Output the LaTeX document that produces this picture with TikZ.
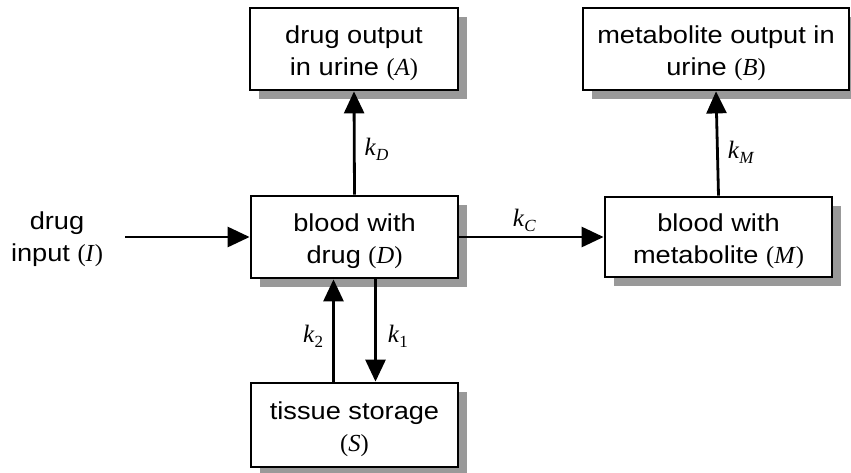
\documentclass[tikz,border=0pt]{standalone}
\usepackage{fontspec}
\setmainfont{Liberation Sans}[FakeStretch=1.11]
\newfontfamily\tms{Liberation Serif}
\usetikzlibrary{shadows,arrows.meta}
\newcommand{\iv}[1]{{\tms(\textit{#1})}}
\newcommand{\fl}{\rule{0pt}{26pt}}
\newcommand{\kl}[1]{{\tms\fontsize{25}{25}\selectfont\textit{k}\raisebox{-5pt}{\fontsize{17}{17}\selectfont #1}}}
\begin{document}
\begin{tikzpicture}[x=1pt,y=-1pt,
  box/.style={draw, line width=2.8pt, fill=white, align=center, inner sep=0pt,
    font=\fontsize{24.5}{32.5}\selectfont,
    drop shadow={shadow xshift=9pt, shadow yshift=-9pt, fill=black!40, opacity=1, draw=none}},
  arr/.style={line width=2.8pt, -{Triangle[length=22pt,width=20pt]}},
  lbl/.style={inner sep=0pt}]
\useasboundingbox (0,0) rectangle (851,472);
\node[box, minimum width=208pt, minimum height=82pt] (A) at (354,49) {\fl drug output\\in urine \iv{A}};
\node[box, minimum width=266pt, minimum height=82pt] (B) at (716,49) {\fl metabolite output in\\urine \iv{B}};
\node[box, minimum width=207pt, minimum height=82pt] (D) at (354.5,237) {\fl blood with\\drug \iv{D}};
\node[box, minimum width=227pt, minimum height=80pt] (M) at (718.5,237) {\fl blood with\\metabolite \iv{M}};
\node[box, minimum width=207pt, minimum height=84pt] (S) at (354.5,425) {\fl tissue storage\\\iv{S}};
\node[align=center, font=\fontsize{24.5}{32.5}\selectfont, inner sep=0pt] (I) at (57,239) {drug\\input \iv{I}};
\coordinate (Iend) at (125,237);
\draw[arr] (Iend) -- (D.west);
\draw[arr] (D.north) -- (A.south) node[lbl, pos=0.44, right=9pt] {\kl{\textit{D}}};
\draw[arr] (M.north) -- (B.south) node[lbl, pos=0.42, right=9pt] {\kl{\textit{M}}};
\draw[arr] (D.east) -- (M.west) node[lbl, pos=0.45, above=4pt] {\kl{\textit{C}}};
\draw[arr] ([xshift=21pt]D.south) -- ([xshift=21pt]S.north) node[lbl, pos=0.56, right=11pt] {\kl{1}};
\draw[arr] ([xshift=-21pt]S.north) -- ([xshift=-21pt]D.south) node[lbl, pos=0.44, left=9pt] {\kl{2}};
\end{tikzpicture}
\end{document}
